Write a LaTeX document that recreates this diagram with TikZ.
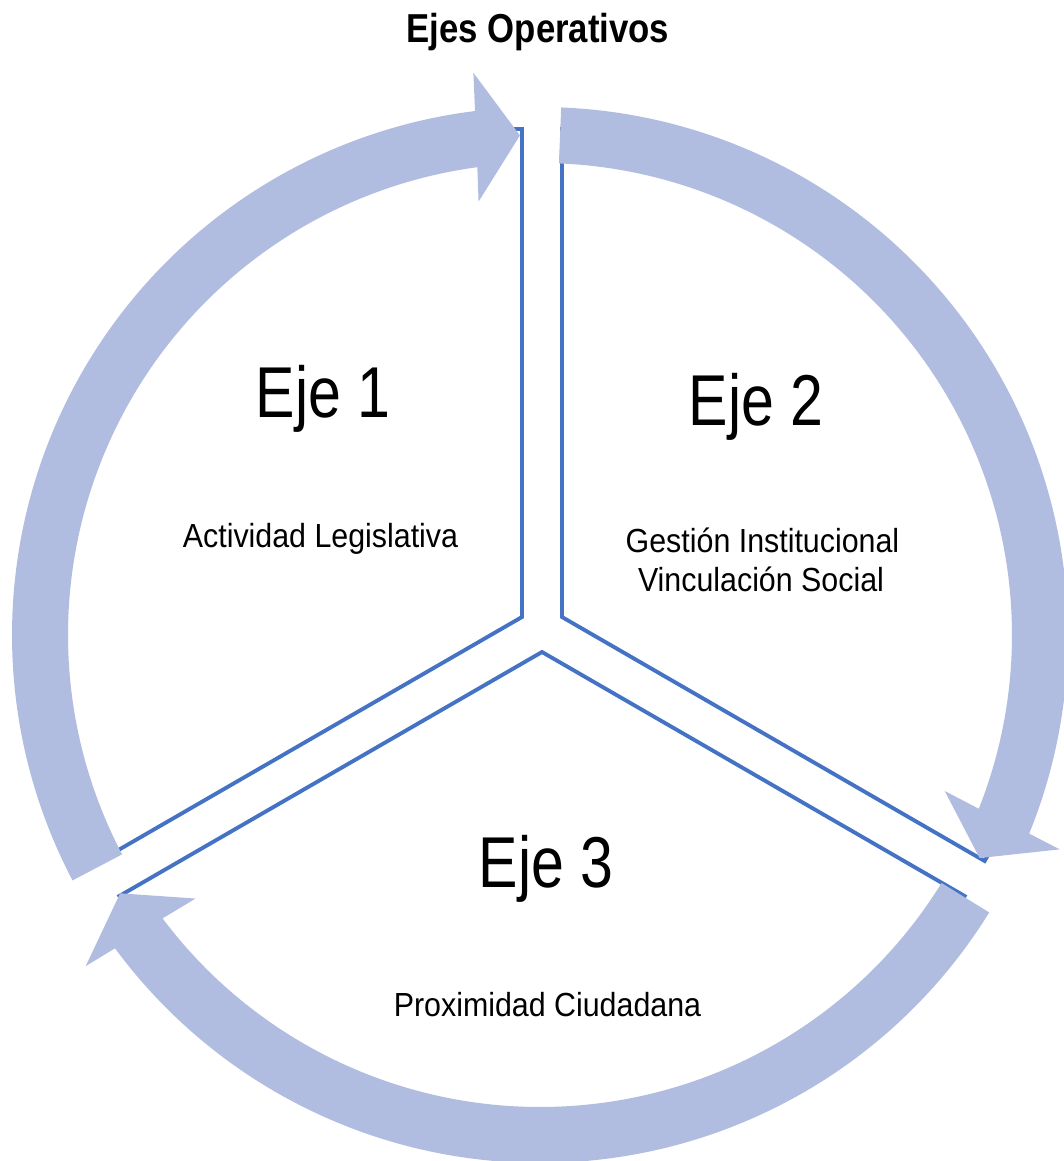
\documentclass[tikz,border=0pt]{standalone}
\usepackage{fontspec}
\usepackage{xcolor}
\setmainfont{Liberation Sans}
\newfontfamily\ejestitlefont[FakeStretch=0.86]{Liberation Sans}
\newfontfamily\ejefont[FakeStretch=0.82]{Liberation Sans}
\newfontfamily\axisfont[FakeStretch=0.91]{Liberation Sans}
\usetikzlibrary{calc}
\definecolor{ringblue}{RGB}{176,189,224}
\definecolor{edgeblue}{RGB}{68,114,196}

\begin{document}
\begin{tikzpicture}[x=0.02cm,y=0.02cm,
	sector/.style={draw=edgeblue,line width=2.2pt,fill=white},
	ringarrow/.style={fill=ringblue},
	ejelabel/.style={anchor=base,font=\ejefont\fontsize{41}{49}\selectfont},
	axislabel/.style={anchor=base,font=\axisfont\fontsize{19}{23}\selectfont}]
\useasboundingbox (-540,-526) rectangle (523,635);

\node[anchor=base,font=\ejestitlefont\bfseries\fontsize{23}{28}\selectfont] (title) at (-2,593) {Ejes Operativos};

% sectors
\draw[sector] (-18,18) -- ++(90:488) arc[start angle=90,end angle=210,radius=488] -- cycle;
\draw[sector] (22,18) -- ++(90:488) arc[start angle=90,end angle=-30,radius=488] -- cycle;
\draw[sector] (2,-17) -- ++(210:488) arc[start angle=210,end angle=330,radius=488] -- cycle;

% ring arrows
\fill[ringarrow] (207.7:528) arc[start angle=207.7,end angle=97.07,radius=528]
	-- ($(92.3:564.5)+(182.3:44)$) -- (92.3:500) -- ($(92.3:435.5)+(182.3:44)$)
	-- (97.63:472) arc[start angle=97.63,end angle=207.7,radius=472] -- cycle;
\fill[ringarrow] (87.7:528) arc[start angle=87.7,end angle=-22.1,radius=528]
	-- ($(-26.9:560.5)+(63.1:44)$) -- (-26.9:493) -- ($(-26.9:431.5)+(63.1:44)$)
	-- (-21.6:472) arc[start angle=-21.6,end angle=87.7,radius=472] -- cycle;
\fill[ringarrow] (-31.7:528) arc[start angle=-31.7,end angle=-143.6,radius=528]
	-- ($(-148.4:560.5)+(-58.4:44)$) -- (-148.4:493) -- ($(-148.4:431.5)+(-58.4:44)$)
	-- (-143.1:472) arc[start angle=-143.1,end angle=-31.7,radius=472] -- cycle;

\node[ejelabel] (eje1) at (-217,218) {Eje 1};
\node[ejelabel] (eje2) at (216,210) {Eje 2};
\node[ejelabel] (eje3) at (6,-252) {Eje 3};

\node[axislabel] (legis) at (-219.5,88) {Actividad Legislativa};
\node[axislabel] (gestion) at (222.5,83) {Gestión Institucional};
\node[axislabel] (vincula) at (221,44) {Vinculación Social};
\node[axislabel] (proxim) at (7.5,-381) {Proximidad Ciudadana};
\end{tikzpicture}
\end{document}
